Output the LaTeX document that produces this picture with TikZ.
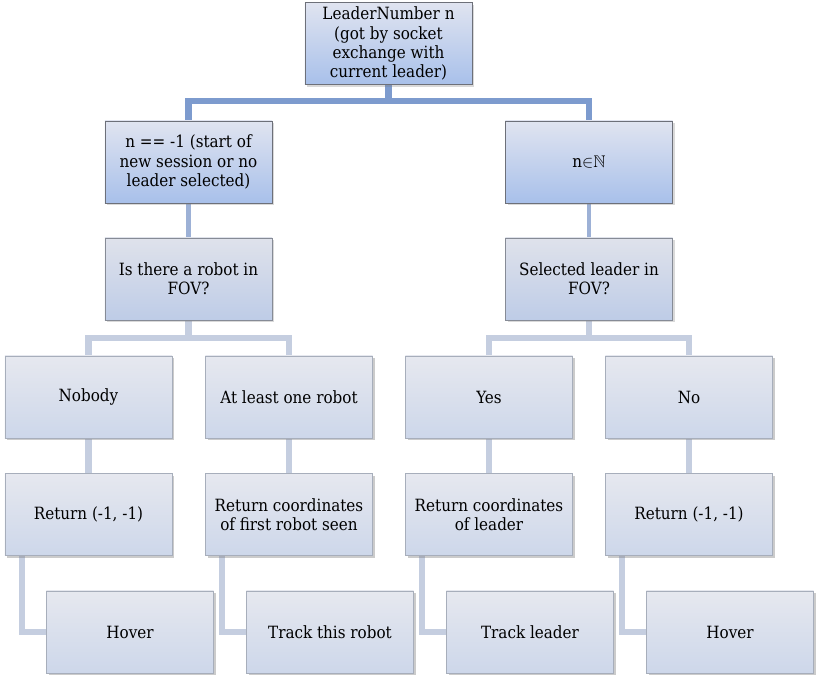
\documentclass[tikz,border=0pt]{standalone}
\usepackage{amssymb}
\usepackage{fontspec}
\setmainfont{DejaVu Serif}[FakeStretch=0.9]
\usetikzlibrary{shadows,backgrounds}
\definecolor{topline}{HTML}{7D9BCE}
\definecolor{midline}{HTML}{9DB1D6}
\definecolor{lowline}{HTML}{C5CEE0}
\definecolor{darkedge}{HTML}{6D7079}
\definecolor{lightedge}{HTML}{A7AEBB}
\definecolor{hightop}{HTML}{E0E4F0}
\definecolor{highbot}{HTML}{A8C0EA}
\definecolor{midtop}{HTML}{DFE2EB}
\definecolor{midbot}{HTML}{BECCE7}
\definecolor{lowtop}{HTML}{E6E8EF}
\definecolor{lowbot}{HTML}{CDD7EA}
\begin{document}
\begin{tikzpicture}[x=0.025cm, y=-0.025cm,
  main node/.style={rectangle, draw=darkedge, line width=0.6pt, minimum width=4.175cm, minimum height=2.05cm,
    align=center, font=\fontsize{12}{13.6}\selectfont, top color=hightop, bottom color=highbot,
    drop shadow={opacity=0.3, shadow xshift=0.6mm, shadow yshift=-0.6mm}},
  mid node/.style={main node, draw=lightedge!80!black, top color=midtop, bottom color=midbot},
  low node/.style={main node, draw=lightedge, top color=lowtop, bottom color=lowbot,
    drop shadow={opacity=0.15, shadow xshift=0.6mm, shadow yshift=-0.6mm}},
  top link/.style={draw=topline, line width=4.3pt},
  mid link/.style={draw=midline, line width=3.4pt},
  low link/.style={draw=lowline, line width=4.3pt}]
  \useasboundingbox (0,0) rectangle (819,682);

  % root
  \node[main node] (root) at (388.5,43.5) {LeaderNumber n\\(got by socket\\exchange with\\current leader)};

  % first split
  \node[main node] (neg) at (188.5,162) {n == -1 (start of\\new session or no\\leader selected)};
  \node[main node] (pos) at (589,162) {n$\mathord{\in}\mathbb{N}$};

  % questions
  \node[mid node] (askrobot) at (188.5,279) {Is there a robot in\\FOV?};
  \node[mid node] (askleader) at (589,279) {Selected leader in\\FOV?};

  % answers
  \node[low node] (nobody) at (88.5,397) {Nobody};
  \node[low node] (atleast) at (289,397) {At least one robot};
  \node[low node] (yes) at (489,397) {Yes};
  \node[low node] (no) at (689,397) {No};

  % returns
  \node[low node] (retnone) at (88.5,514.5) {Return (-1, -1)};
  \node[low node] (retfirst) at (289,514.5) {Return coordinates\\of first robot seen};
  \node[low node] (retleader) at (489,514.5) {Return coordinates\\of leader};
  \node[low node] (retno) at (689,514.5) {Return (-1, -1)};

  % actions
  \node[low node] (hoverl) at (130,632) {Hover};
  \node[low node] (trackrobot) at (330,632) {Track this robot};
  \node[low node] (trackleader) at (530,632) {Track leader};
  \node[low node] (hoverr) at (730,632) {Hover};

  \begin{pgfonlayer}{background}
  % upper tree
  \draw[top link] (root.south) -- ++(0,16) -| (neg.north);
  \draw[top link] (root.south) -- ++(0,16) -| (pos.north);
  \draw[mid link] (neg) -- (askrobot);
  \draw[mid link] (pos) -- (askleader);
  % lower tree
  \draw[low link] (askrobot.south) -- ++(0,18) -| (nobody.north);
  \draw[low link] (askrobot.south) -- ++(0,18) -| (atleast.north);
  \draw[low link] (askleader.south) -- ++(0,18) -| (yes.north);
  \draw[low link] (askleader.south) -- ++(0,18) -| (no.north);
  \draw[low link] (nobody) -- (retnone);
  \draw[low link] (atleast) -- (retfirst);
  \draw[low link] (yes) -- (retleader);
  \draw[low link] (no) -- (retno);
  \draw[low link] ([xshift=0.425cm]retnone.south west) |- (hoverl.west);
  \draw[low link] ([xshift=0.425cm]retfirst.south west) |- (trackrobot.west);
  \draw[low link] ([xshift=0.425cm]retleader.south west) |- (trackleader.west);
  \draw[low link] ([xshift=0.425cm]retno.south west) |- (hoverr.west);
  \end{pgfonlayer}
\end{tikzpicture}
\end{document}
